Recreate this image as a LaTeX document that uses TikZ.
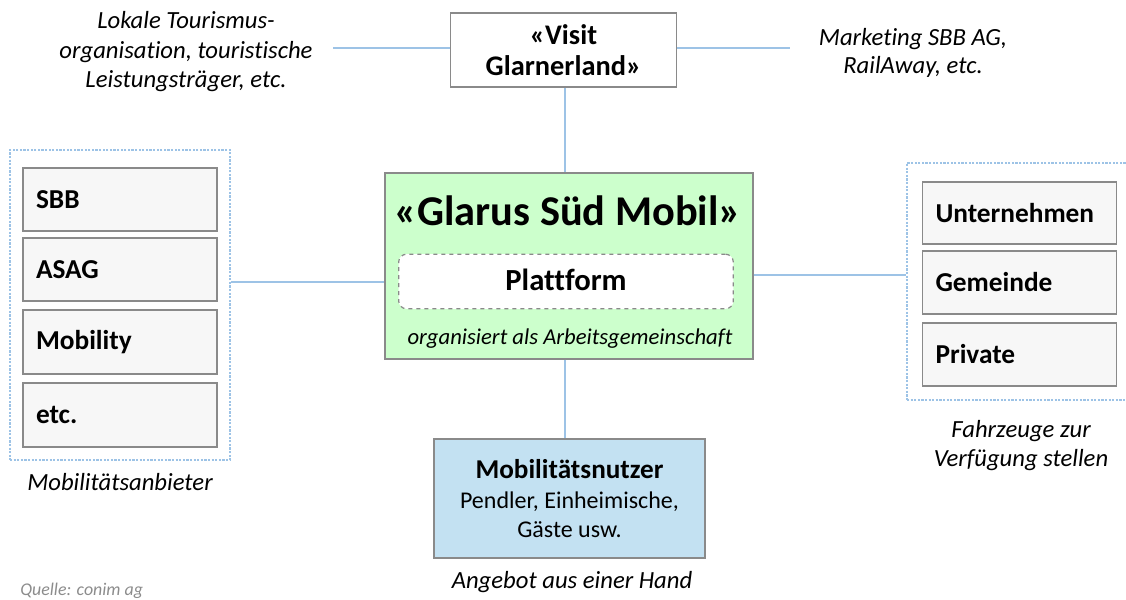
\documentclass[tikz,border=0pt]{standalone}
\usepackage{fontspec}
\setmainfont{Carlito}[Ligatures=NoCommon]
\usetikzlibrary{positioning}
\definecolor{linkblue}{HTML}{9DC3E6}
\definecolor{boxgray}{HTML}{8A8A8A}
\definecolor{mobgreen}{HTML}{CCFFCC}
\definecolor{userblue}{HTML}{C3E1F2}
\definecolor{notegray}{HTML}{8C8C8C}

\tikzset{
  link/.style={draw=linkblue, line width=0.9pt},
  group/.style={draw=linkblue, dash pattern=on 1.6pt off 1.1pt, line width=0.8pt, inner sep=0pt},
  member/.style={draw=boxgray, fill=black!3, line width=0.9pt, inner xsep=9.75pt, inner ysep=0pt,
    text width=126pt, align=left, font=\fontsize{20.5}{24}\selectfont\bfseries},
  note/.style={align=center, font=\fontsize{18.5}{22}\selectfont\itshape, inner sep=0pt},
}

\begin{document}
\begin{tikzpicture}[x=0.75pt, y=-0.75pt]
    \useasboundingbox (0,0) rectangle (1126,599);

    \node[draw=boxgray, fill=white, line width=0.9pt, minimum width=170pt, minimum height=55.5pt,
      align=center, font=\fontsize{21.3}{23.5}\selectfont\bfseries] (visit) at (563.5,50)
      {«Visit\\Glarnerland»};

    \node[draw=boxgray, fill=mobgreen, line width=0.9pt, minimum width=276pt, minimum height=139.5pt]
      (glarus) at (569,266) {};
    \node[anchor=base, inner sep=0pt, font=\fontsize{31.8}{34}\selectfont\bfseries] (titel) at (568,225)
      {«Glarus Süd Mobil»};
    \node[draw=boxgray, dashed, rounded corners=6pt, fill=white, line width=0.9pt,
      minimum width=251pt, minimum height=41pt] (plattform) at (566,281.5) {};
    \node[anchor=base, inner sep=0pt, font=\fontsize{23}{26}\selectfont\bfseries] at (566,290) {Plattform};
    \node[anchor=base, inner sep=0pt, font=\fontsize{17}{20}\selectfont\itshape] (arge) at (570,344)
      {organisiert als Arbeitsgemeinschaft};

    % Mobilitaetsanbieter
    \node[group, minimum width=165pt, minimum height=232.5pt] (anbieter) at (120,305) {};
    \node[member, minimum height=47.25pt] (sbb) at (120,199.5) {SBB};
    \node[member, minimum height=47.25pt] (asag) at (120,269.5) {ASAG};
    \node[member, minimum height=48pt] (mobility) at (120,342) {Mobility};
    \node[member, minimum height=48pt] (etc) at (120,415) {etc.};
    \node[note, anchor=base] at (120,490) {Mobilitätsanbieter};

    % Fahrzeughalter
    \node[group, minimum width=167.25pt, minimum height=177.75pt] (halter) at (1018.5,281.5) {};
    \node[member, minimum height=46.5pt] (firma) at (1019.5,213) {Unternehmen};
    \node[member, minimum height=47.25pt] (gemeinde) at (1019.5,282.5) {Gemeinde};
    \node[member, minimum height=47.25pt] (privat) at (1019.5,354.5) {Private};
    \node[note, anchor=base] at (1021,437) {Fahrzeuge zur};
    \node[note, anchor=base] at (1021,466) {Verfügung stellen};

    \node[draw=boxgray, fill=userblue, line width=0.9pt, minimum width=203.25pt, minimum height=89.25pt]
      (nutzer) at (569.5,498.5) {};
    \node[anchor=base, inner sep=0pt, font=\fontsize{20.4}{24}\selectfont\bfseries] at (569.5,478) {Mobilitätsnutzer};
    \node[anchor=base, inner sep=0pt, font=\fontsize{18}{21}\selectfont] at (569.5,508) {Pendler, Einheimische,};
    \node[anchor=base, inner sep=0pt, font=\fontsize{18}{21}\selectfont] at (569.5,537) {Gäste usw.};
    \node[note, anchor=base] at (572,588) {Angebot aus einer Hand};

    \node[note, anchor=base] (lokal) at (186,29) {Lokale Tourismus-};
    \node[note, anchor=base] at (186,58.5) {organisation, touristische};
    \node[note, anchor=base] at (186,88) {Leistungsträger, etc.};
    \node[note, anchor=base] (marketing) at (913,46) {Marketing SBB AG,};
    \node[note, anchor=base] at (913,74) {RailAway, etc.};

    \node[anchor=base west, inner sep=0pt, text=notegray, font=\fontsize{13.4}{15}\selectfont\itshape]
      (quelle) at (20,595) {Quelle: conim ag};

    \coordinate (lokalend) at (333,48);
    \coordinate (marketingend) at (790,48);
    \draw[link] (lokalend) -- (visit.west |- lokalend);
    \draw[link] (visit.east |- marketingend) -- (marketingend);
    \draw[link] (visit.south -| 565,0) -- (glarus.north -| 565,0);
    \draw[link] (glarus.south -| 565,0) -- (nutzer.north -| 565,0);
    \draw[link] (anbieter.east |- 0,282) -- (glarus.west |- 0,282);
    \draw[link] (glarus.east |- 0,275) -- (halter.west |- 0,275);
\end{tikzpicture}
\end{document}
